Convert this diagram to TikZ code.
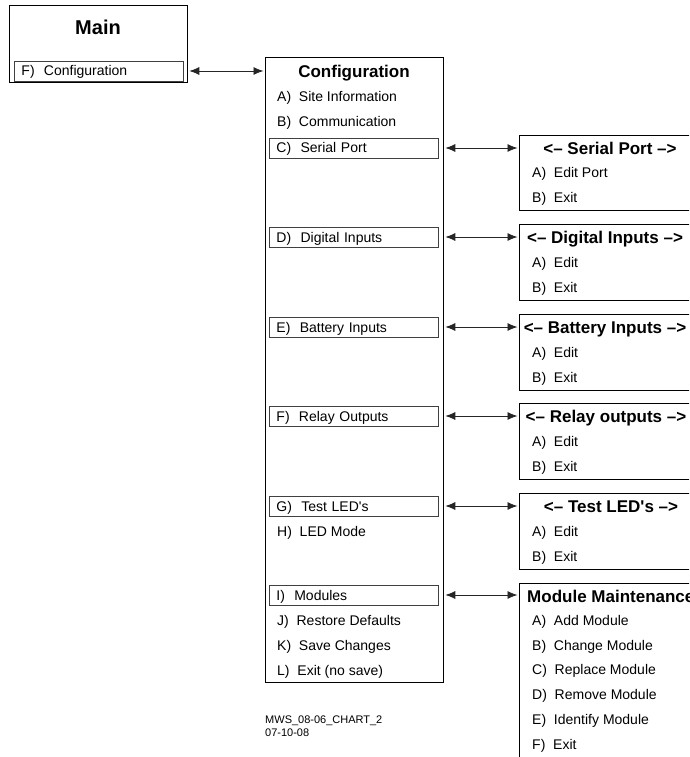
\documentclass[tikz,border=0pt]{standalone}
\usepackage{fontspec}
\setmainfont{Liberation Sans}
\usetikzlibrary{arrows.meta}

\begin{document}
\begin{tikzpicture}[
    x=1pt, y=-1pt,
    menu/.style={rectangle,draw=black,line width=0.8pt,anchor=north west,inner sep=0pt},
    head/.style={font=\bfseries\fontsize{17}{20}\selectfont,inner sep=0pt,text height=12pt,text depth=0pt},
    item/.style={anchor=west,font=\fontsize{14}{16}\selectfont,inner sep=0pt,text height=10pt,text depth=0pt},
    sel/.style={rectangle,draw=black!75,line width=0.9pt,anchor=west,minimum height=20pt,
        inner xsep=7pt,inner ysep=0pt,text width=155pt,align=left,text height=10pt,text depth=0pt,
        font=\fontsize{14}{16}\selectfont},
    link/.style={draw=black!85,line width=0.8pt,shorten <=1.5pt,shorten >=1.5pt,
        {Latex[length=10pt,width=8pt]}-{Latex[length=10pt,width=8pt]}},
    ]
    \clip (0,0) rectangle (689,757);

    % main menu
    \node[menu,minimum width=178pt,minimum height=77pt] (main) at (9,5) {};
    \node[head,font=\bfseries\fontsize{20}{24}\selectfont,text height=14pt] (mainT) at (98,28) {Main};
    \node[sel] (mainF) at (14,71) {F)~~Configuration};

    % configuration menu
    \node[menu,minimum width=178pt,minimum height=625pt] (cfg) at (265,57) {};
    \node[head] (cfgT) at (354,72) {Configuration};
    \node[item] (cfgA) at (277,97) {A)~~Site Information};
    \node[item] (cfgB) at (277,122) {B)~~Communication};
    \node[sel] (selC) at (269,148) {C)~~Serial Port};
    \node[sel] (selD) at (269,237) {D)~~Digital Inputs};
    \node[sel] (selE) at (269,327) {E)~~Battery Inputs};
    \node[sel] (selF) at (269,416) {F)~~Relay Outputs};
    \node[sel] (selG) at (269,506) {G)~~Test LED\textquotesingle s};
    \node[item] (cfgH) at (277,531) {H)~~LED Mode};
    \node[sel] (selI) at (269,595) {I)~~Modules};
    \node[item] (cfgJ) at (277,620) {J)~~Restore Defaults};
    \node[item] (cfgK) at (277,645) {K)~~Save Changes};
    \node[item] (cfgL) at (277,670) {L)~~Exit (no save)};

    % sub menus
    \node[menu,minimum width=182pt,minimum height=75pt] (serial) at (519,135) {};
    \node[head] at (610,148) {<-- Serial Port -->};
    \node[item] at (532,172) {A)~~Edit Port};
    \node[item] at (532,197) {B)~~Exit};

    \node[menu,minimum width=182pt,minimum height=76pt] (digital) at (519,224) {};
    \node[head] at (605,237) {<-- Digital Inputs -->};
    \node[item] at (532,262) {A)~~Edit};
    \node[item] at (532,287) {B)~~Exit};

    \node[menu,minimum width=182pt,minimum height=76pt] (battery) at (519,314) {};
    \node[head] at (605,327) {<-- Battery Inputs -->};
    \node[item] at (532,352) {A)~~Edit};
    \node[item] at (532,377) {B)~~Exit};

    \node[menu,minimum width=182pt,minimum height=76pt] (relay) at (519,403) {};
    \node[head] at (606,416) {<-- Relay outputs -->};
    \node[item] at (532,441) {A)~~Edit};
    \node[item] at (532,466) {B)~~Exit};

    \node[menu,minimum width=182pt,minimum height=76pt] (leds) at (519,493) {};
    \node[head] at (611,506) {<-- Test LED\textquotesingle s -->};
    \node[item] at (532,531) {A)~~Edit};
    \node[item] at (532,556) {B)~~Exit};

    \node[menu,minimum width=182pt,minimum height=190pt] (module) at (519,583) {};
    \node[head,anchor=west] at (527,596) {Module Maintenance};
    \node[item] at (532,620) {A)~~Add Module};
    \node[item] at (532,645) {B)~~Change Module};
    \node[item] at (532,669) {C)~~Replace Module};
    \node[item] at (532,694) {D)~~Remove Module};
    \node[item] at (532,719) {E)~~Identify Module};
    \node[item] at (532,744) {F)~~Exit};

    % links between menus
    \draw[link] (mainF.east -| main.east) -- (mainF.east -| cfg.west);
    \draw[link] (selC.east -| cfg.east) -- (selC.east -| serial.west);
    \draw[link] (selD.east -| cfg.east) -- (selD.east -| digital.west);
    \draw[link] (selE.east -| cfg.east) -- (selE.east -| battery.west);
    \draw[link] (selF.east -| cfg.east) -- (selF.east -| relay.west);
    \draw[link] (selG.east -| cfg.east) -- (selG.east -| leds.west);
    \draw[link] (selI.east -| cfg.east) -- (selI.east -| module.west);

    \node[anchor=north west,align=left,inner sep=0pt,font=\fontsize{11}{13}\selectfont] (stamp)
        at (265,716) {MWS\_08-06\_CHART\_2\\07-10-08};
\end{tikzpicture}
\end{document}
